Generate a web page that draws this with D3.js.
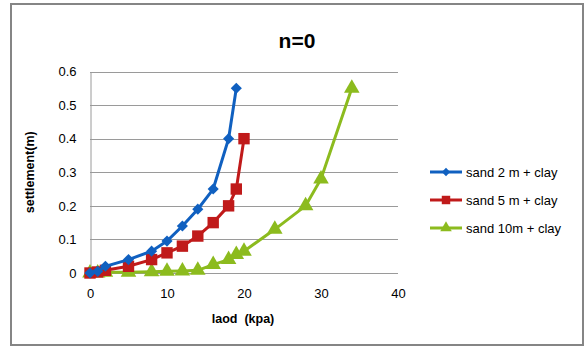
<!DOCTYPE html>
<html>
<head>
<meta charset="utf-8">
<script src="https://cdn.jsdelivr.net/npm/d3@7"></script>
<style>
  body { margin: 0; background: #fff; }
  text { font-family: "Liberation Sans", "DejaVu Sans", sans-serif; }
</style>
</head>
<body>
<div id="chart"></div>
<script>
// data
let seriesNames = ['sand 2 m + clay', 'sand 5 m + clay', 'sand 10m + clay']
let loadBlue = [0, 1, 2, 5, 8, 10, 12, 14, 16, 18, 19]
let settleBlue = [0, 0.005, 0.02, 0.04, 0.065, 0.095, 0.14, 0.19, 0.25, 0.40, 0.55]
let loadRed = [0, 1, 2, 5, 8, 10, 12, 14, 16, 18, 19, 20]
let settleRed = [0, 0.003, 0.008, 0.02, 0.04, 0.06, 0.08, 0.11, 0.15, 0.20, 0.25, 0.40]
let loadGreen = [0, 1, 2, 5, 8, 10, 12, 14, 16, 18, 19, 20, 24, 28, 30, 34]
let settleGreen = [0, 0, 0.002, 0.002, 0.004, 0.005, 0.006, 0.008, 0.025, 0.04, 0.055, 0.065, 0.13, 0.20, 0.28, 0.55]
let xTicks = [0, 10, 20, 30, 40]
let yTicks = [0, 0.1, 0.2, 0.3, 0.4, 0.5, 0.6]

let svgWidth = 585, svgHeight = 347
let plot = { left: 90, right: 398, top: 71.5, bottom: 273 }

let svg = d3.select('#chart').append('svg')
    .attr('width', svgWidth)
    .attr('height', svgHeight)

// outer frame
svg.append('rect')
    .attr('x', 11).attr('y', 4)
    .attr('width', 572).attr('height', 341)
    .attr('fill', '#fff')
    .attr('stroke', '#858585')
    .attr('stroke-width', 2)

let x = d3.scaleLinear().domain([0, 40]).range([plot.left, plot.right])
let y = d3.scaleLinear().domain([0, 0.6]).range([plot.bottom, plot.top])

// gridlines
svg.append('g')
    .selectAll('line')
    .data(yTicks)
    .enter()
    .append('line')
    .attr('x1', plot.left).attr('x2', plot.right)
    .attr('y1', d => Math.round(y(d)) + 0.5)
    .attr('y2', d => Math.round(y(d)) + 0.5)
    .attr('stroke', '#9a9a9a')
    .attr('stroke-width', 1)

let axis_y = d3.axisLeft(y).tickValues(yTicks).tickSize(0).tickPadding(14)
    .tickFormat(d => d === 0 ? '0' : d3.format('.1f')(d))
svg.append('g')
    .attr('transform', `translate(${plot.left + 0.5}, 0)`)
    .call(axis_y)
    .call(g => g.select('.domain').attr('stroke', '#9a9a9a'))
    .attr('font-size', 13)
    .attr('font-family', '"Liberation Sans", sans-serif')

let axis_x = d3.axisBottom(x).tickValues(xTicks).tickSize(0).tickPadding(16)
svg.append('g')
    .attr('transform', `translate(0, ${plot.bottom})`)
    .call(axis_x)
    .call(g => g.select('.domain').remove())
    .attr('font-size', 13)
    .attr('font-family', '"Liberation Sans", sans-serif')

// titles
svg.append('text')
    .attr('x', 297).attr('y', 48)
    .attr('text-anchor', 'middle')
    .attr('font-size', 21)
    .attr('font-weight', 'bold')
    .text('n=0')

svg.append('text')
    .attr('x', 243).attr('y', 323)
    .attr('text-anchor', 'middle')
    .attr('font-size', 12.5)
    .attr('font-weight', 'bold')
    .attr('xml:space', 'preserve')
    .text('laod  (kpa)')

svg.append('text')
    .attr('transform', `translate(34, ${(plot.top + plot.bottom) / 2}) rotate(-90)`)
    .attr('text-anchor', 'middle')
    .attr('font-size', 12.5)
    .attr('font-weight', 'bold')
    .text('settlement(m)')

// diamonds are squares turned 45 degrees
let series = [
    { name: seriesNames[0], xs: loadBlue, ys: settleBlue, color: '#1060c0', symbol: d3.symbolSquare, size: 62, rot: 45 },
    { name: seriesNames[1], xs: loadRed, ys: settleRed, color: '#c01a1a', symbol: d3.symbolSquare, size: 130, rot: 0 },
    { name: seriesNames[2], xs: loadGreen, ys: settleGreen, color: '#8cbb1e', symbol: d3.symbolTriangle, size: 105, rot: 0 }
]

let line = d3.line().x(d => x(d[0])).y(d => y(d[1]))

// draw green first so blue sits on top like the original
series.slice().reverse().forEach(s => {
    let pts = s.xs.map((v, i) => [v, s.ys[i]])
    let g = svg.append('g')
    g.append('path')
        .datum(pts)
        .attr('d', line)
        .attr('fill', 'none')
        .attr('stroke', s.color)
        .attr('stroke-width', 3)
    g.selectAll('path.pt')
        .data(pts)
        .enter()
        .append('path')
        .attr('class', 'pt')
        .attr('transform', d => `translate(${x(d[0])}, ${y(d[1])}) rotate(${s.rot})`)
        .attr('d', d3.symbol().type(s.symbol).size(s.size))
        .attr('fill', s.color)
})

// legend
let legend = svg.append('g')
series.forEach((s, i) => {
    let ly = 172 + i * 28
    legend.append('line')
        .attr('x1', 430).attr('x2', 462)
        .attr('y1', ly).attr('y2', ly)
        .attr('stroke', s.color)
        .attr('stroke-width', 3)
    legend.append('path')
        .attr('transform', `translate(446, ${ly}) rotate(${s.rot})`)
        .attr('d', d3.symbol().type(s.symbol).size(s.size * 0.55))
        .attr('fill', s.color)
    legend.append('text')
        .attr('x', 466).attr('y', ly + 4.5)
        .attr('font-size', 13)
        .text(s.name)
})
</script>
</body>
</html>
